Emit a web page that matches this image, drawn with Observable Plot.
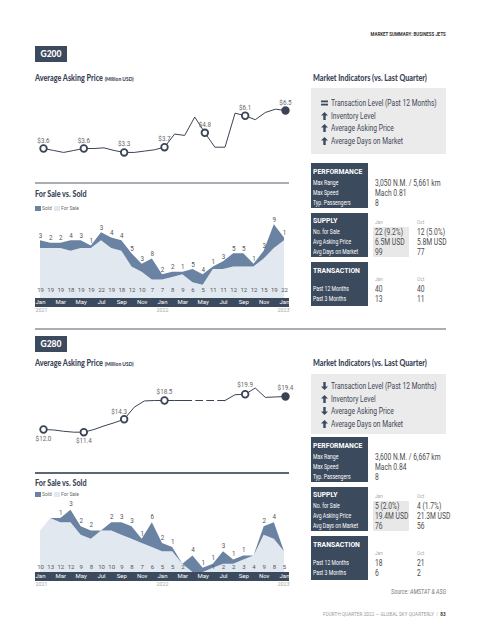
<!DOCTYPE html>
<html><head><meta charset="utf-8">
<script src="https://cdn.jsdelivr.net/npm/d3@7"></script>
<script src="https://cdn.jsdelivr.net/npm/@observablehq/plot@0.6"></script>
<style>
html,body{margin:0;padding:0;background:#fff;}
#page{position:relative;width:480px;height:640px;overflow:hidden;font-family:"Liberation Sans Narrow","Roboto",sans-serif;color:#444;}
#page div{position:absolute;white-space:nowrap;}
.title{font-family:Lato,"Open Sans",sans-serif;font-weight:900;color:#3c4658;font-size:8.6px;transform:scaleX(0.84);transform-origin:left center;}
.title small{font-size:5.8px;font-weight:900;}
.badge{font-family:Lato,"Open Sans",sans-serif;font-weight:900;color:#fff;font-size:8.5px;text-align:center;}
.hdr{color:#fff;font-weight:bold;font-size:7.6px;transform:scaleX(0.9);transform-origin:left center;}
.lbl{color:#fff;font-size:6.4px;transform:scaleX(0.8);transform-origin:left center;}
.val{color:#4a4a4a;font-size:8.4px;transform:scaleX(0.8);transform-origin:left center;}
.col{color:#aaa;font-size:5.6px;transform:scaleX(0.85);transform-origin:left center;}
.ind{color:#3f4756;font-size:8.4px;transform:scaleX(0.8);transform-origin:left center;}
.leg{color:#666;font-size:6.2px;transform:scaleX(0.8);transform-origin:left center;}
.rc{transform:scaleX(0.82);transform-origin:right center;}
</style></head>
<body><div id="page"></div>
<script>
// ---------- data ----------
const monthLabels = ["Jan","Feb","Mar","Apr","May","Jun","Jul","Aug","Sep","Oct","Nov","Dec","Jan","Feb","Mar","Apr","May","Jun","Jul","Aug","Sep","Oct","Nov","Dec","Jan"];
const yearLabels = ["2021","2022","2023"];
const legendLabels = ["Sold","For Sale"];

const g200Price = [3.6,3.45,3.3,3.45,3.6,3.6,3.65,3.45,3.3,3.3,3.4,3.5,3.7,4.7,4.6,6.0,4.8,3.7,3.7,6.3,6.1,5.8,6.35,6.6,6.5];
const g280Price = [12.0,11.9,11.6,11.4,11.4,12.0,12.8,13.5,14.3,17.0,18.4,18.5,18.5,18.5,18.5,null,null,null,18.5,19.8,19.9,21.3,19.2,19.3,19.4];

const g200ForSale = [19,19,19,18,19,19,22,19,18,12,10,7,7,8,9,6,5,11,11,12,12,12,15,19,22];
const g200Sold    = [3,2,2,4,3,1,3,4,4,5,3,8,2,2,1,5,4,1,3,5,5,1,3,9,1];
const g280ForSale = [10,13,12,12,9,8,10,10,9,8,7,6,5,5,2,0,0,1,2,2,3,4,9,8,5];
const g280Sold    = [0,0,1,3,2,2,0,2,3,3,1,6,2,1,0,4,1,1,3,1,1,0,2,4,0];

const indicatorLabels = ["Transaction Level (Past 12 Months)","Inventory Level","Average Asking Price","Average Days on Market"];
const g200Trend = ["flat","up","up","up"];
const g280Trend = ["down","up","down","up"];

const perfLabels = ["Max Range","Max Speed","Typ. Passengers"];
const g200Perf = ["3,050 N.M. / 5,661 km","Mach 0.81","8"];
const g280Perf = ["3,600 N.M. / 6,667 km","Mach 0.84","8"];

const colLabels = ["Jan","Oct"];
const supplyLabels = ["No. for Sale","Avg Asking Price","Avg Days on Market"];
const g200SupplyJan = ["22 (9.2%)","6.5M USD","99"];
const g200SupplyOct = ["12 (5.0%)","5.8M USD","77"];
const g280SupplyJan = ["5 (2.0%)","19.4M USD","76"];
const g280SupplyOct = ["4 (1.7%)","21.3M USD","56"];

const transLabels = ["Past 12 Months","Past 3 Months"];
const g200TransJan = ["40","13"];
const g200TransOct = ["40","11"];
const g280TransJan = ["18","6"];
const g280TransOct = ["21","2"];

// ---------- styling ----------
const navy = "#3c4a5e";
const soldColor = "#6a83a3";
const saleColor = "#e1e8f0";
const lineColor = "#3a4454";
const plotStyle = {fontFamily:"'Liberation Sans Narrow', Roboto, sans-serif", fontSize:"6.3px", background:"none", overflow:"visible"};

const page = document.getElementById("page");
function el(css, html){ const e=document.createElement("div"); e.style.cssText=css; if(html!=null) e.innerHTML=html; page.appendChild(e); return e; }
function t(x,y,s,cls,extra=""){ const e=el(`left:${x}px;top:${y-6}px;height:12px;line-height:12px;${extra}`, s); if(cls) e.className=cls; return e; }
function tR(xr,y,s,cls,extra=""){ const e=el(`right:${480-xr}px;top:${y-6}px;height:12px;line-height:12px;${extra}`, s); if(cls) e.className=cls; return e; }
function box(x,y,w,h,bg){ return el(`left:${x}px;top:${y}px;width:${w}px;height:${h}px;background:${bg};`); }
function place(svg, top){ svg.style.position="absolute"; svg.style.left="0px"; svg.style.top=top+"px"; page.appendChild(svg); }

function icon(x,y,type){
  let svg;
  if(type==="flat") svg=`<svg width="7" height="6"><rect x="0" y="0.5" width="7" height="1.8" fill="${navy}"/><rect x="0" y="3.7" width="7" height="1.8" fill="${navy}"/></svg>`;
  else {
    const p = "M3.5 0 L7 3.6 L4.7 3.6 L4.7 8 L2.3 8 L2.3 3.6 L0 3.6Z";
    svg=`<svg width="7" height="8"><path d="${p}" fill="${navy}" ${type==="down"?'transform="rotate(180 3.5 4)"':''}/></svg>`;
  }
  el(`left:${x}px;top:${y-(type==="flat"?3:4)}px;width:7px;height:8px;line-height:0;`, svg);
}

// ---------- page text/blocks ----------
tR(446,34,"MARKET SUMMARY: BUSINESS JETS","rc", "font-size:5.4px;font-weight:bold;color:#333;");

function section(o){
  box(35,o.badgeTop,32,16,navy);
  const b=t(35,o.badgeTop+8,o.name,"badge"); b.style.width="32px";
  t(35,o.titleY,'Average Asking Price <small>(Million USD)</small>',"title");
  t(313,o.titleY,'Market Indicators (vs. Last Quarter)',"title");
  // indicators
  box(311,o.indTop,135,o.indH,"#ebebeb");
  indicatorLabels.forEach((l,i)=>{ const y=o.indFirst+i*12.6; icon(321,y,o.trend[i]); t(331,y,l,"ind"); });
  // sale vs sold header
  box(35,o.sepY,254,o.sepH,o.sepColor);
  t(35,o.fsTitleY,'For Sale vs. Sold',"title");
  box(35,o.legY-2.5,6,5,soldColor); t(42,o.legY,legendLabels[0],"leg");
  box(54,o.legY-2.5,6,5,saleColor); t(61,o.legY,legendLabels[1],"leg");
  // date bar
  box(35,o.barTop,254,9,navy);
  // tables
  const X=311,W=57,V1=375,V2=417;
  box(X,o.perfTop,W,45,navy);
  t(X+2,o.perfTop+9,"PERFORMANCE","hdr");
  perfLabels.forEach((l,i)=>{ const y=o.perfTop+20+i*10; t(X+2,y,l,"lbl"); t(V1,y,o.perf[i],"val"); });
  box(X,o.supTop,W,44,navy);
  t(X+2,o.supTop+8,"SUPPLY","hdr");
  box(373,o.supTop+14,36,30,"#e8e8e8");
  t(V1,o.supTop+9,colLabels[0],"col"); t(V2,o.supTop+9,colLabels[1],"col");
  supplyLabels.forEach((l,i)=>{ const y=o.supTop+19+i*10; t(X+2,y,l,"lbl"); t(V1,y,o.supJan[i],"val"); t(V2,y,o.supOct[i],"val"); });
  box(X,o.trTop,W,44,navy);
  t(X+2,o.trTop+9,"TRANSACTION","hdr");
  t(V1,o.trTop+17,colLabels[0],"col"); t(V2,o.trTop+17,colLabels[1],"col");
  transLabels.forEach((l,i)=>{ const y=o.trTop+27+i*9.5; t(X+2,y,l,"lbl"); t(V1,y,o.trJan[i],"val"); t(V2,y,o.trOct[i],"val"); });
}

section({name:"G200",badgeTop:46,titleY:78,indTop:88,indH:66,indFirst:103,trend:g200Trend,
  sepY:182,sepH:2,sepColor:"#a9aeb4",fsTitleY:194,legY:208,barTop:298,
  perfTop:163,perf:g200Perf,supTop:213,supJan:g200SupplyJan,supOct:g200SupplyOct,trTop:262,trJan:g200TransJan,trOct:g200TransOct});
box(35,328,411,2,"#a9aeb4");
section({name:"G280",badgeTop:336,titleY:363,indTop:374,indH:60,indFirst:386,trend:g280Trend,
  sepY:472,sepH:1.5,sepColor:"#5d6672",fsTitleY:483,legY:494,barTop:572,
  perfTop:437,perf:g280Perf,supTop:487,supJan:g280SupplyJan,supOct:g280SupplyOct,trTop:536,trJan:g280TransJan,trOct:g280TransOct});

tR(446,592,"Source: AMSTAT &amp; ASG","rc","font-size:6.6px;font-style:italic;color:#777;");
tR(446,614,'FOURTH QUARTER 2022 — GLOBAL SKY QUARTERLY &nbsp;|&nbsp; <b style="color:#333">83</b>',"rc","font-size:5.6px;color:#999;letter-spacing:0.1px;");

// ---------- charts ----------
function pricePlot(values,o){
  const data=values.map((v,m)=>({m,v}));
  const pts=data.filter(d=>d.m%4===0 && d.v!=null);
  const last=pts[pts.length-1];
  const open=pts.filter(d=>d!==last);
  const bridges=[];
  for(let i=1;i<data.length;i++){
    if(data[i].v==null && data[i-1].v!=null){
      let j=i; while(j<data.length && data[j].v==null) j++;
      if(j<data.length) bridges.push([data[i-1],data[j]]);
    }
  }
  const lbl=d=>"$"+d.v.toFixed(1);
  const below=o.below||[], left=o.left||[];
  const above=pts.filter(d=>!below.includes(d.m)&&!left.includes(d.m));
  const svg=Plot.plot({
    width:290,height:o.height,marginLeft:43,marginRight:5,marginTop:0,marginBottom:0,
    x:{domain:[0,24],axis:null},
    y:{domain:o.domain,range:o.range,axis:null},
    style:plotStyle,
    marks:[
      Plot.line(data,{x:"m",y:"v",stroke:lineColor,strokeWidth:1}),
      ...bridges.map(b=>Plot.line(b,{x:"m",y:"v",stroke:lineColor,strokeWidth:1,strokeDasharray:"7,4"})),
      Plot.dot(open,{x:"m",y:"v",r:3.3,fill:"white",stroke:lineColor,strokeWidth:1.8}),
      Plot.dot([last],{x:"m",y:"v",r:3.3,fill:lineColor,stroke:lineColor,strokeWidth:1.8}),
      Plot.text(above,{x:"m",y:"v",text:lbl,dy:o.aboveDy,fill:"#666"}),
      Plot.text(pts.filter(d=>below.includes(d.m)),{x:"m",y:"v",text:lbl,dy:9,fill:"#666"}),
      Plot.text(pts.filter(d=>left.includes(d.m)),{x:"m",y:"v",text:lbl,dy:-7,dx:-5,fill:"#666"})
    ]
  });
  place(svg,o.top);
}

function areaPlot(forSale,sold,o){
  const data=forSale.map((f,m)=>({m,f,s:sold[m],t:f+sold[m]}));
  const H=o.height, base=o.base;
  const years=monthLabels.map((l,m)=>({l,m})).filter(d=>d.l==="Jan").map((d,i)=>({m:d.m,y:yearLabels[i]}));
  const svg=Plot.plot({
    width:290,height:H,marginLeft:40,marginRight:6,marginTop:0,marginBottom:H-base,
    x:{domain:[0,24],axis:null},
    y:{domain:[0,o.ymax],range:[base,base-o.ymax*o.ppu],axis:null},
    style:plotStyle,
    marks:[
      Plot.areaY(data,{x:"m",y1:0,y2:"f",fill:saleColor}),
      Plot.areaY(data,{x:"m",y1:"f",y2:"t",fill:soldColor}),
      Plot.text(data.filter(d=>d.s>0),{x:"m",y:"t",text:d=>String(d.s),dy:o.soldDy,fill:"#555"}),
      Plot.text(data.filter(d=>d.f>0),{x:"m",frameAnchor:"bottom",text:d=>String(d.f),dy:o.numDy,fill:"#555",fontSize:6}),
      Plot.axisX({ticks:d3.range(0,25,2),tickFormat:m=>monthLabels[m],tickSize:0,tickPadding:1.5,color:"white",label:null,fontSize:6}),
      Plot.text(years.slice(0,1),{x:"m",text:"y",frameAnchor:"bottom",dy:o.yearDy,dx:-5,textAnchor:"start",fill:"#aaa",fontSize:5.4}),
      Plot.text(years.slice(1,2),{x:"m",text:"y",frameAnchor:"bottom",dy:o.yearDy,textAnchor:"middle",fill:"#aaa",fontSize:5.4}),
      Plot.text(years.slice(2),{x:"m",text:"y",frameAnchor:"bottom",dy:o.yearDy,dx:5,textAnchor:"end",fill:"#aaa",fontSize:5.4})
    ]
  });
  place(svg,o.top);
}

pricePlot(g200Price,{top:92,height:70,domain:[3,7],range:[63.86,11.46],aboveDy:-8});
pricePlot(g280Price,{top:375,height:75,domain:[10,22],range:[62.92,9.4],aboveDy:-9,below:[0,4],left:[8]});
areaPlot(g200ForSale,g200Sold,{top:212,height:104,base:86,ymax:30,ppu:2.63,numDy:-7,soldDy:-5,yearDy:13.5});
areaPlot(g280ForSale,g280Sold,{top:498,height:92,base:74,ymax:16,ppu:4.15,numDy:-3.8,soldDy:-5.8,yearDy:13.5});
</script></body></html>
